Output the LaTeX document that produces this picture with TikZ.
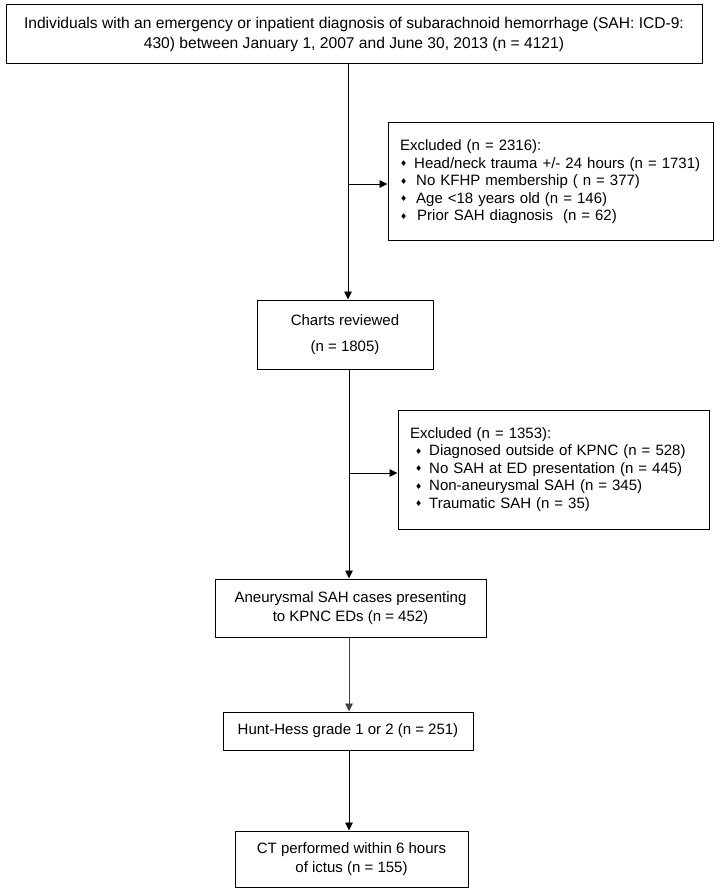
\documentclass[tikz,border=0pt]{standalone}
\usepackage{fontspec}
\setmainfont{Liberation Sans}
\newfontfamily\symfont{DejaVu Sans}
\usetikzlibrary{arrows.meta,positioning,calc}
\newcommand{\dmd}{{\symfont\fontsize{8}{8}\selectfont\raisebox{1.5pt}{♦}}\hspace{7pt}}

\begin{document}
\begin{tikzpicture}[
    x=1pt, y=-1pt,
    box/.style={draw, line width=1pt, align=center, inner sep=0pt, font=\fontsize{15}{18.5}\selectfont},
    exclbox/.style={draw, line width=1pt, align=left, inner xsep=12pt, inner ysep=0pt, font=\fontsize{15}{17.5}\selectfont},
    arrow/.style={-{Triangle[length=8pt, width=7.5pt]}, line width=0.9pt}
]
\useasboundingbox (0,0) rectangle (724,890);

% Source population
\node[box, minimum width=696pt, minimum height=59pt, font=\fontsize{15.6}{20}\selectfont] (top) at (354, 34.5)
  {Individuals with an emergency or inpatient diagnosis of subarachnoid hemorrhage (SAH: ICD-9:\\
   430) between January 1, 2007 and June 30, 2013 (n = 4121)};

% First exclusion
\node[exclbox, text width=301pt, minimum height=118pt] (excl1) at (550.5, 182)
  {Excluded (n = 2316):\\
   \dmd Head/neck trauma +/- 24 hours (n = 1731)\\
   \dmd\hspace{2pt}No KFHP membership ( n = 377)\\
   \dmd\hspace{2pt}Age <18 years old (n = 146)\\
   \dmd\hspace{3pt}Prior SAH diagnosis~ (n = 62)\\[4pt]};

% Charts
\node[box, minimum width=176pt, minimum height=69pt] (charts) at (345, 334.5)
  {Charts reviewed\\[7pt](n = 1805)};

% Second exclusion
\node[exclbox, text width=287pt, minimum height=119pt] (excl2) at (553.5, 469.5)
  {Excluded (n = 1353):\\
   \hspace{5pt}\dmd Diagnosed outside of KPNC (n = 528)\\
   \hspace{5pt}\dmd No SAH at ED presentation (n = 445)\\
   \hspace{5pt}\dmd Non-aneurysmal SAH (n = 345)\\
   \hspace{5pt}\dmd Traumatic SAH (n = 35)\\[4pt]};

% Cohort
\node[box, minimum width=271pt, minimum height=58pt] (aneur) at (350.5, 608)
  {Aneurysmal SAH cases presenting\\to KPNC EDs (n = 452)};
\node[box, minimum width=250pt, minimum height=38pt] (hunt) at (348, 731)
  {Hunt-Hess grade 1 or 2 (n = 251)};
\node[box, minimum width=233pt, minimum height=56pt] (ct) at (351.5, 859)
  {CT performed within 6 hours\\of ictus (n = 155)};

% Spine
\coordinate (j1) at (348, 184);
\coordinate (j2) at (349, 473);

% Arrows
\draw[arrow] (top.south -| j1) -- (charts.north -| j1);
\draw[arrow] (j1) -- (j1 -| excl1.west);
\draw[arrow] (charts.south -| j2) -- (aneur.north -| j2);
\draw[arrow] (j2) -- (j2 -| excl2.west);
\draw[arrow, black!75] (aneur.south -| j2) -- (hunt.north -| j2);
\draw[arrow] (hunt.south -| j2) -- (ct.north -| j2);

\end{tikzpicture}
\end{document}
